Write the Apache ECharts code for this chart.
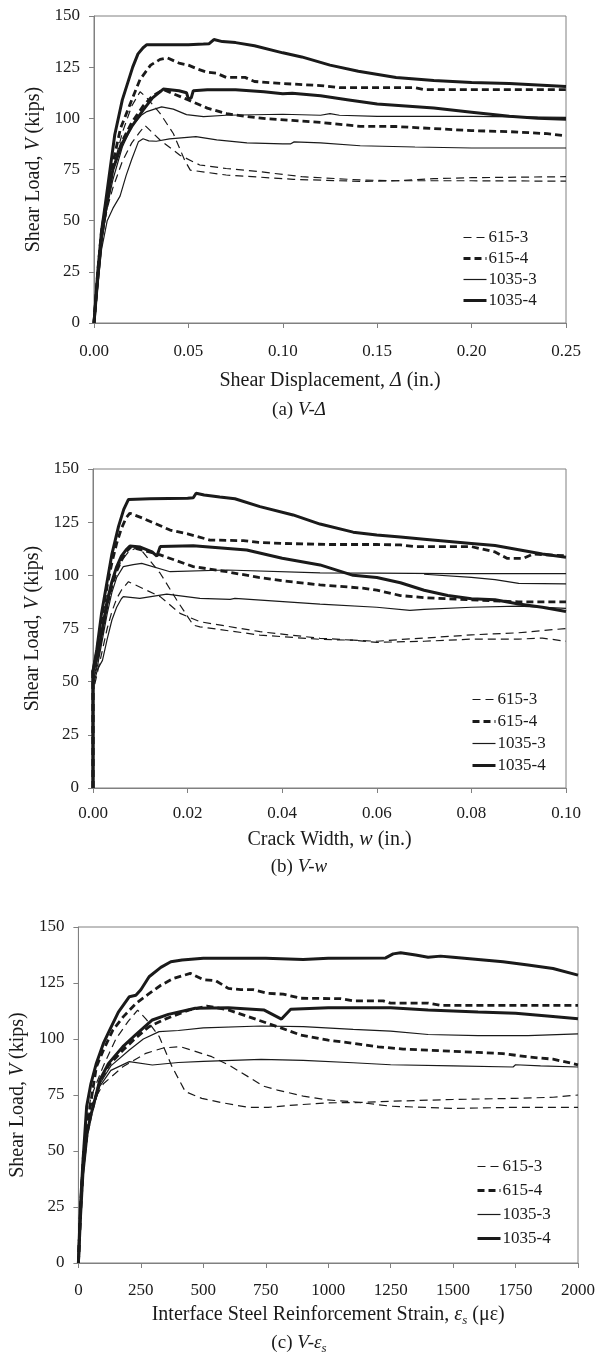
<!DOCTYPE html>
<html>
<head>
<meta charset="utf-8">
<script src="https://cdn.jsdelivr.net/npm/echarts@6/dist/echarts.min.js"></script>
<style>html,body{margin:0;padding:0;background:#fff}#c{width:598px;height:1355px}</style>
</head>
<body>
<div id="c"></div>
<script>
// ---------- names ----------
const names = ['615-3', '615-4', '1035-3', '1035-4'];
const yTicks = [0, 25, 50, 75, 100, 125, 150];

// ---------- (a) V - Delta ----------
const a_615_3_1 = [[0,0],[0.002,22],[0.004,42],[0.007,60],[0.01,75],[0.015,93],[0.02,106],[0.0244,113],[0.028,110],[0.035,102.4],[0.042,92.6],[0.048,79.6],[0.051,74.7],[0.07,72.3],[0.1056,70.2],[0.141,69.2],[0.16,69.5],[0.18,70.5],[0.2,71],[0.25,71.5]];
const a_615_3_2 = [[0,0],[0.002,20],[0.004,40],[0.007,56],[0.01,66],[0.015,79],[0.02,88],[0.024,93],[0.027,96.5],[0.035,89.4],[0.0455,82],[0.056,77.2],[0.07,75.5],[0.088,73.9],[0.11,71.5],[0.141,69.9],[0.16,69.5],[0.2,69.5],[0.25,69.3]];
const a_615_4_1 = [[0,0],[0.002,25],[0.004,45],[0.007,62],[0.01,78],[0.014,95],[0.02,109],[0.0244,119],[0.03,126],[0.035,128.8],[0.039,129.5],[0.045,127],[0.05,126],[0.055,124],[0.06,122.5],[0.065,122],[0.07,120],[0.08,120],[0.085,118],[0.1,117],[0.12,116],[0.13,115],[0.15,115],[0.17,115],[0.175,114],[0.2,114],[0.25,114]];
const a_615_4_2 = [[0,0],[0.002,22],[0.004,42],[0.007,60],[0.01,76],[0.015,89],[0.02,98],[0.026,106],[0.031,111],[0.037,114],[0.042,112],[0.05,109],[0.06,105],[0.0703,102.3],[0.08,101],[0.0915,99.8],[0.105,99],[0.12,98],[0.141,96.1],[0.16,96],[0.18,95],[0.2,94],[0.22,93.5],[0.24,92.5],[0.25,91.5]];
const a_1035_3_1 = [[0,0],[0.002,20],[0.004,40],[0.007,57],[0.01,70],[0.015,86],[0.02,96],[0.025,101.5],[0.028,103.3],[0.032,104.5],[0.0358,105.6],[0.042,104.5],[0.049,101.8],[0.058,100.8],[0.07,101.5],[0.1,102],[0.12,101.5],[0.125,102.3],[0.13,101.5],[0.15,101],[0.2,101],[0.25,100.5]];
const a_1035_3_2 = [[0,0],[0.002,18],[0.004,36],[0.007,50],[0.01,56],[0.0138,62],[0.017,72],[0.02,80],[0.0235,88.5],[0.026,90],[0.029,89],[0.033,88.8],[0.04,90],[0.054,91.1],[0.065,89.5],[0.081,88],[0.1,87.5],[0.104,87.5],[0.106,88.5],[0.12,88],[0.141,86.6],[0.17,86],[0.2,85.5],[0.25,85.5]];
const a_1035_4_1 = [[0,0],[0.002,25],[0.004,45],[0.006,58],[0.0085,75],[0.011,92],[0.015,109],[0.0205,125],[0.0233,131.5],[0.026,134.5],[0.028,136],[0.04,136],[0.05,136],[0.058,136.3],[0.061,136.5],[0.0635,138.5],[0.068,137.5],[0.075,137],[0.085,135.5],[0.1,132],[0.11,130],[0.125,126],[0.14,123],[0.16,120],[0.18,118.5],[0.2,117.5],[0.22,117],[0.24,116],[0.25,115.5]];
const a_1035_4_2 = [[0,0],[0.002,22],[0.004,42],[0.007,60],[0.01,75],[0.015,88],[0.02,96],[0.026,104],[0.031,110],[0.0367,114.3],[0.045,113.5],[0.049,112.5],[0.05,109.5],[0.0515,110],[0.0526,113.5],[0.06,114],[0.075,114],[0.09,113],[0.1,112],[0.105,112.3],[0.12,111],[0.135,109],[0.15,107],[0.165,106],[0.18,105],[0.2,103],[0.22,101],[0.235,100],[0.25,99.5]];

// ---------- (b) V - w ----------
const b_615_3_1 = [[0,0],[0,50],[0.001,60],[0.002,73],[0.003,85],[0.004,95],[0.005,102],[0.006,107],[0.0075,111],[0.0096,113.5],[0.0142,101],[0.0177,88.4],[0.0212,76.6],[0.0226,75.8],[0.0353,71.9],[0.048,69.9],[0.055,69.5],[0.06,69],[0.065,69.8],[0.07,70.5],[0.08,72],[0.09,73],[0.095,74],[0.1,75]];
const b_615_3_2 = [[0,0],[0,45],[0.001,55],[0.002,65],[0.003,75],[0.004,83],[0.005,89],[0.006,93],[0.0075,97],[0.0142,90],[0.0184,82.1],[0.0226,78.2],[0.0353,73.5],[0.048,70.4],[0.055,69.5],[0.06,68.5],[0.07,69],[0.08,70],[0.09,70],[0.095,70.5],[0.1,69]];
const b_615_4_1 = [[0,0],[0,55],[0.0008,64],[0.002,82],[0.003,95],[0.004,106],[0.005,115],[0.006,122],[0.007,127],[0.0078,129.2],[0.0106,126.8],[0.0163,121.3],[0.02,119.5],[0.0247,116.6],[0.0318,116.3],[0.035,115.5],[0.04,115],[0.05,114.5],[0.06,114.5],[0.065,114.3],[0.068,113.5],[0.08,113.5],[0.085,111],[0.0875,108],[0.091,108],[0.093,110],[0.1,109.2]];
const b_615_4_2 = [[0,0],[0,55],[0.001,62],[0.002,74],[0.003,86],[0.004,95],[0.005,102],[0.006,107],[0.007,111],[0.008,113.3],[0.0142,109.6],[0.0212,104.1],[0.0283,101.7],[0.035,99],[0.04,97.5],[0.048,95.5],[0.057,94],[0.06,93],[0.065,90.5],[0.07,89.5],[0.08,88.5],[0.09,87.5],[0.1,87.5]];
const b_1035_3_1 = [[0,0],[0,50],[0.001,58],[0.002,70],[0.003,82],[0.004,92],[0.005,99],[0.0064,104.1],[0.0085,105],[0.0103,105.6],[0.0163,101.7],[0.0283,102.5],[0.048,101.2],[0.06,101],[0.075,100.8],[0.1,100.8]];
const b_1035_3_2 = [[0,0],[0,48],[0.001,56],[0.002,60],[0.003,70],[0.004,79],[0.005,85],[0.006,89],[0.0064,90],[0.0099,89.2],[0.0156,91.2],[0.0226,89.2],[0.029,88.7],[0.03,89.2],[0.048,86.5],[0.06,85],[0.067,83.5],[0.07,84],[0.08,85],[0.09,85.5],[0.1,84.5]];
const b_1035_3_3 = [[0.07,100.5],[0.08,99],[0.085,98],[0.09,96.2],[0.1,96]];
const b_1035_4_1 = [[0,0],[0,55],[0.0008,65],[0.0018,82],[0.0029,96],[0.004,110],[0.0054,123],[0.0065,131],[0.0075,135.7],[0.012,136],[0.02,136.3],[0.0212,136.5],[0.0218,138.6],[0.0235,137.8],[0.0268,136.8],[0.03,136],[0.0353,132.3],[0.0423,128.4],[0.048,124.1],[0.055,120.3],[0.06,119],[0.065,118],[0.07,117],[0.08,115],[0.085,114],[0.09,112],[0.095,110],[0.1,108.5]];
const b_1035_4_2 = [[0,0],[0,55],[0.001,62],[0.002,75],[0.003,88],[0.004,97],[0.005,104],[0.006,109],[0.007,112],[0.0078,113.8],[0.01,113.3],[0.0125,111],[0.0135,109],[0.0142,113.5],[0.0212,113.9],[0.0325,111.9],[0.04,108],[0.048,104.9],[0.055,100],[0.06,99],[0.065,96.5],[0.07,93],[0.075,90.5],[0.08,89],[0.085,88.5],[0.09,86.5],[0.095,85],[0.1,83]];

// ---------- (c) V - eps_s ----------
const c_615_3_1 = [[0,0],[8,30],[18,50],[35,65],[50,74],[100,88],[150,100],[200,108],[237,112.9],[270,109],[323,101.2],[375,87.6],[428,76.5],[494,73.5],[573,71.6],[679,69.5],[760,69.5],[863,70.5],[1000,71.5],[1100,71.6],[1250,72.2],[1500,73],[1750,73.5],[1900,74],[2000,75]];
const c_615_3_2 = [[0,0],[8,28],[18,48],[35,62],[50,70],[100,80],[178,87.6],[270,93.6],[340,96],[408,96.6],[534,92.1],[600,88.5],[679,83.2],[740,79],[797,77.2],[900,74.5],[995,72.8],[1100,72],[1250,70],[1500,69],[1750,69.5],[2000,69.5]];
const c_615_4_1 = [[0,0],[8,22],[18,42],[35,62],[50,72],[72,87.6],[100,95],[138,104],[180,110],[231,115.9],[280,120],[330,124],[380,127],[448,129.3],[500,126.5],[550,126],[600,122.6],[650,122],[700,122],[758,120.4],[820,120],[889,118.2],[1050,118],[1100,117],[1220,117],[1250,116],[1400,116],[1450,115],[2000,115]];
const c_615_4_2 = [[0,0],[8,22],[18,42],[35,58],[50,66],[86,81],[120,88],[178,95],[230,100.5],[283,105.5],[350,109],[441,112.9],[514,114.7],[600,113],[679,110],[797,105.5],[889,101.8],[1000,99.5],[1100,98.1],[1200,96.5],[1300,95.5],[1400,95],[1500,94.5],[1600,94],[1700,93.5],[1800,92],[1900,91],[2000,88.5]];
const c_1035_3_1 = [[0,0],[8,20],[18,40],[35,57],[50,66],[86,80],[130,88],[204,95.1],[260,100],[323,103.3],[400,103.8],[500,105],[731,105.8],[900,105.5],[1100,104.3],[1250,103.5],[1400,102],[1600,101.5],[1800,101.5],[2000,102.3]];
const c_1035_3_2 = [[0,0],[8,20],[18,40],[35,57],[50,66],[86,79],[130,86],[204,89.9],[296,88.4],[400,89.5],[500,90],[731,90.9],[900,90.5],[1100,89.4],[1250,88.5],[1500,88],[1740,87.5],[1750,88.5],[1850,88],[2000,87.5]];
const c_1035_4_1 = [[0,0],[8,25],[18,45],[33,69.8],[50,80],[72,89.2],[100,98],[125,104],[160,112],[204,118.9],[230,119.5],[250,122],[283,127.8],[330,132],[370,134.5],[415,135.3],[500,136],[750,136],[900,135.5],[1000,136],[1230,136.2],[1260,138],[1290,138.5],[1350,137.5],[1400,136.5],[1450,137],[1500,136.5],[1600,135.5],[1700,134.5],[1800,133],[1900,131.5],[2000,128.5]];
const c_1035_4_2 = [[0,0],[8,20],[18,40],[35,58],[50,66],[86,81.7],[120,89],[178,96.6],[230,102],[296,108.5],[360,111],[468,113.7],[600,114],[744,112.9],[813,108.9],[850,113.3],[1000,114],[1250,114],[1400,113],[1500,112.5],[1600,112],[1750,111.5],[1900,110],[2000,109]];

// ---------- styles ----------
const F = 'Liberation Serif';
const INK = '#1a1a1a';
const AX = '#808080';
const STY = {
  '615-3': {width: 1.2, type: [8, 5]},
  '615-4': {width: 2.8, type: [7, 4]},
  '1035-3': {width: 1.2, type: 'solid'},
  '1035-4': {width: 3, type: 'solid'}
};

function ser(name, data, g) {
  return {
    type: 'line', name: name, xAxisIndex: g, yAxisIndex: g, data: data,
    symbol: 'none', showSymbol: false, silent: true, clip: true,
    lineStyle: {color: INK, width: STY[name].width, type: STY[name].type},
    itemStyle: {color: INK}
  };
}

const rich = {
  i: {fontFamily: F, fontSize: 20, fontStyle: 'italic', color: INK, lineHeight: 24, verticalAlign: 'middle'},
  s: {fontFamily: F, fontSize: 13, fontStyle: 'italic', color: INK, lineHeight: 13, verticalAlign: 'bottom'}
};
const nameStyle = {fontFamily: F, fontSize: 20, color: INK, rich: rich};

function yAx(g, gap) {
  return {
    type: 'value', gridIndex: g, min: 0, max: 150, interval: 25,
    axisLine: {show: true, lineStyle: {color: AX, width: 1}},
    axisTick: {show: true, length: 5, lineStyle: {color: AX}},
    axisLabel: {fontFamily: F, fontSize: 17, color: INK, margin: 14},
    splitLine: {show: false},
    name: 'Shear Load, {i|V} (kips)', nameLocation: 'middle', nameGap: gap, nameRotate: 90,
    nameTextStyle: nameStyle
  };
}
function xAx(g, max, interval, dec, name, gap, margin, inside) {
  return {
    type: 'value', gridIndex: g, min: 0, max: max, interval: interval,
    axisLine: {show: true, onZero: false, lineStyle: {color: AX, width: 1}},
    axisTick: {show: true, inside: !!inside, length: 5, lineStyle: {color: AX}},
    axisLabel: {fontFamily: F, fontSize: 17, color: INK, margin: margin,
      formatter: v => dec ? v.toFixed(dec) : String(Math.round(v))},
    splitLine: {show: false},
    name: name, nameLocation: 'middle', nameGap: gap, nameTextStyle: nameStyle
  };
}

function leg(left, top, gap) {
  return {
    data: names, orient: 'vertical', left: left, top: top, padding: 0,
    itemWidth: 23, itemHeight: 14, itemGap: gap, selectedMode: false,
    itemStyle: {opacity: 0, borderWidth: 0},
    lineStyle: {width: 'inherit', type: 'inherit', color: 'inherit'},
    textStyle: {fontFamily: F, fontSize: 17, color: INK, padding: [0, 0, 0, -3]}
  };
}

function cap(txt, top) {
  return {
    text: txt, left: 'center', top: top, padding: 0,
    textStyle: {fontFamily: F, fontSize: 19, fontWeight: 'normal', color: INK,
      rich: {i: {fontFamily: F, fontSize: 19, fontStyle: 'italic', color: INK, lineHeight: 24, verticalAlign: 'middle'},
             n: {fontFamily: F, fontSize: 19, color: INK, lineHeight: 24, verticalAlign: 'middle'},
             s: {fontFamily: F, fontSize: 13, fontStyle: 'italic', color: INK, lineHeight: 13, verticalAlign: 'bottom'}}}
  };
}

const series = [
  ser('615-3', a_615_3_1, 0), ser('615-3', a_615_3_2, 0),
  ser('615-4', a_615_4_1, 0), ser('615-4', a_615_4_2, 0),
  ser('1035-3', a_1035_3_1, 0), ser('1035-3', a_1035_3_2, 0),
  ser('1035-4', a_1035_4_1, 0), ser('1035-4', a_1035_4_2, 0),
  ser('615-3', b_615_3_1, 1), ser('615-3', b_615_3_2, 1),
  ser('615-4', b_615_4_1, 1), ser('615-4', b_615_4_2, 1),
  ser('1035-3', b_1035_3_1, 1), ser('1035-3', b_1035_3_2, 1), ser('1035-3', b_1035_3_3, 1),
  ser('1035-4', b_1035_4_1, 1), ser('1035-4', b_1035_4_2, 1),
  ser('615-3', c_615_3_1, 2), ser('615-3', c_615_3_2, 2),
  ser('615-4', c_615_4_1, 2), ser('615-4', c_615_4_2, 2),
  ser('1035-3', c_1035_3_1, 2), ser('1035-3', c_1035_3_2, 2),
  ser('1035-4', c_1035_4_1, 2), ser('1035-4', c_1035_4_2, 2)
];

const xC2 = xAx(2, 2000, 250, 0, '', 0, 0, true);
xC2.axisLabel = {show: false}; xC2.axisLine = {show: false}; xC2.name = '';

const option = {
  animation: false,
  backgroundColor: '#ffffff',
  title: [
    cap('{n|(a) }{i|V-Δ}', 398),
    cap('{n|(b) }{i|V-w}', 855),
    cap('{n|(c) }{i|V-ε}{s|s}', 1331)
  ],
  legend: [leg(462, 229, 4), leg(471, 691, 5), leg(476, 1158, 7)],
  grid: [
    {left: 94, top: 16, width: 472, height: 307, show: true, borderColor: AX, borderWidth: 1, backgroundColor: 'transparent'},
    {left: 93, top: 469, width: 473, height: 319, show: true, borderColor: AX, borderWidth: 1, backgroundColor: 'transparent'},
    {left: 75, top: 927, width: 506, height: 336, show: true, borderColor: AX, borderWidth: 1, backgroundColor: 'transparent'}
  ],
  xAxis: [
    xAx(0, 0.25, 0.05, 2, 'Shear Displacement, {i|Δ} (in.)', 46, 20),
    xAx(1, 0.1, 0.02, 2, 'Crack Width, {i|w} (in.)', 40, 17),
    xAx(2, 2000, 250, 0, 'Interface Steel Reinforcement Strain, {i|ε}{s|s} (με)', 40, 19),
    xC2
  ],
  yAxis: [yAx(0, 41), yAx(1, 39), yAx(2, 39)],
  series: series
};

const chart = echarts.init(document.getElementById('c'), null, {renderer: 'canvas'});
chart.setOption(option);
</script>
</body>
</html>
